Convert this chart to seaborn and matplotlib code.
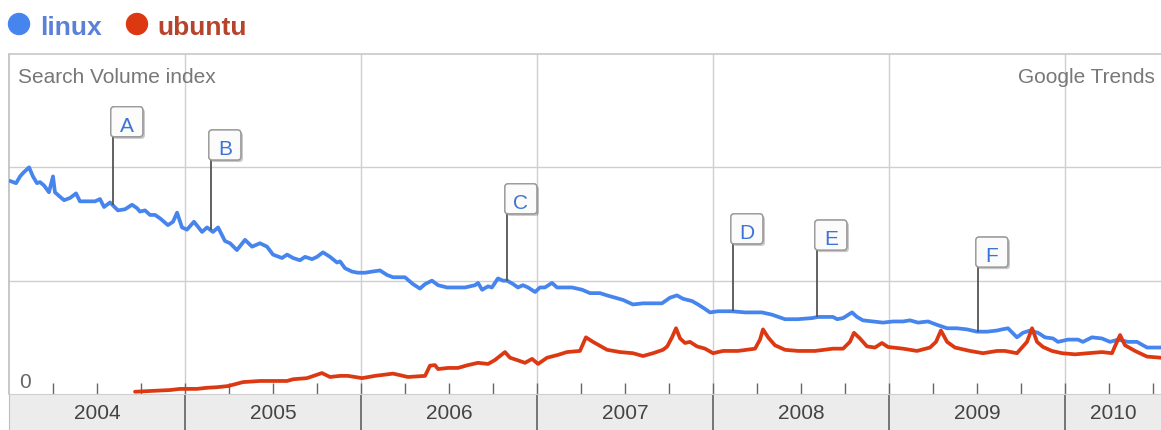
import numpy as np
import pandas as pd
import matplotlib
matplotlib.use("Agg")
import matplotlib.pyplot as plt
import matplotlib.patheffects as pe
import matplotlib.transforms as mtransforms
from matplotlib.patches import Ellipse, FancyBboxPatch
import seaborn as sns

sns.set_style("white")
plt.rcParams['font.family'] = ['Liberation Sans', 'DejaVu Sans']

# ---------------- data (Search Volume index, decimal years) ----------------
linux_years = [
    2004.006, 2004.040, 2004.063, 2004.080, 2004.114, 2004.136, 2004.159, 2004.176, 2004.199, 2004.227,
    2004.250, 2004.261, 2004.290, 2004.313, 2004.347, 2004.381, 2004.403, 2004.443, 2004.489, 2004.517,
    2004.540, 2004.574, 2004.619, 2004.659, 2004.699, 2004.727, 2004.744, 2004.773, 2004.801, 2004.830,
    2004.858, 2004.903, 2004.932, 2004.955, 2004.983,
    2005.011, 2005.051, 2005.097, 2005.125, 2005.159, 2005.188, 2005.227, 2005.256, 2005.295, 2005.341,
    2005.381, 2005.426, 2005.466, 2005.500, 2005.551, 2005.580, 2005.614, 2005.653, 2005.682, 2005.722,
    2005.750, 2005.784, 2005.824, 2005.864, 2005.881, 2005.909, 2005.949, 2005.983,
    2006.023, 2006.063, 2006.108, 2006.148, 2006.182, 2006.250, 2006.295, 2006.335, 2006.364, 2006.403,
    2006.438, 2006.489, 2006.534, 2006.591, 2006.648, 2006.665, 2006.688, 2006.722, 2006.744, 2006.778,
    2006.807, 2006.830, 2006.864, 2006.892, 2006.920, 2006.949, 2006.989,
    2007.017, 2007.045, 2007.085, 2007.114, 2007.148, 2007.199, 2007.256, 2007.301, 2007.358, 2007.398,
    2007.443, 2007.489, 2007.545, 2007.602, 2007.659, 2007.710, 2007.756, 2007.795, 2007.830, 2007.881,
    2007.915, 2007.955, 2007.983,
    2008.028, 2008.108, 2008.182, 2008.278, 2008.335, 2008.409, 2008.483, 2008.563, 2008.597, 2008.682,
    2008.705, 2008.739, 2008.790, 2008.818, 2008.852, 2008.909, 2008.966,
    2009.023, 2009.080, 2009.119, 2009.165, 2009.222, 2009.273, 2009.330, 2009.386, 2009.443, 2009.500,
    2009.557, 2009.614, 2009.642, 2009.676, 2009.727, 2009.761, 2009.801, 2009.847, 2009.886, 2009.932,
    2009.960,
    2010.017, 2010.074, 2010.102, 2010.153, 2010.210, 2010.256, 2010.301, 2010.358, 2010.409, 2010.466,
    2010.545,
]
linux_values = [
    1.88, 1.86, 1.92, 1.95, 2.00, 1.92, 1.86, 1.87, 1.84, 1.78,
    1.92, 1.78, 1.74, 1.71, 1.73, 1.77, 1.70, 1.70, 1.70, 1.72,
    1.65, 1.69, 1.62, 1.63, 1.67, 1.64, 1.61, 1.62, 1.58, 1.58,
    1.55, 1.49, 1.52, 1.60, 1.47,
    1.45, 1.52, 1.43, 1.47, 1.43, 1.47, 1.35, 1.33, 1.27, 1.36,
    1.30, 1.33, 1.30, 1.23, 1.20, 1.23, 1.20, 1.18, 1.21, 1.19,
    1.21, 1.25, 1.21, 1.16, 1.17, 1.11, 1.08, 1.07,
    1.07, 1.08, 1.09, 1.05, 1.03, 1.03, 0.97, 0.93, 0.97, 1.00,
    0.96, 0.94, 0.94, 0.94, 0.96, 0.98, 0.92, 0.95, 0.94, 1.02,
    1.00, 1.00, 0.97, 0.94, 0.96, 0.94, 0.90,
    0.94, 0.94, 0.98, 0.94, 0.94, 0.94, 0.92, 0.89, 0.89, 0.87,
    0.85, 0.83, 0.79, 0.80, 0.80, 0.80, 0.85, 0.87, 0.84, 0.82,
    0.79, 0.75, 0.72,
    0.73, 0.73, 0.72, 0.72, 0.70, 0.66, 0.66, 0.67, 0.68, 0.68,
    0.66, 0.67, 0.72, 0.68, 0.65, 0.64, 0.63,
    0.64, 0.64, 0.65, 0.63, 0.64, 0.61, 0.58, 0.58, 0.57, 0.55,
    0.55, 0.56, 0.57, 0.58, 0.50, 0.54, 0.56, 0.54, 0.50, 0.49,
    0.46,
    0.48, 0.48, 0.46, 0.50, 0.49, 0.46, 0.48, 0.46, 0.46, 0.41,
    0.41,
]

ubuntu_years = [
    2004.716, 2004.915, 2004.972,
    2005.068, 2005.125, 2005.182, 2005.244, 2005.330, 2005.426, 2005.500, 2005.580, 2005.614, 2005.693,
    2005.750, 2005.778, 2005.824, 2005.881, 2005.926,
    2006.006, 2006.080, 2006.182, 2006.267, 2006.364, 2006.392, 2006.420, 2006.438, 2006.494, 2006.551,
    2006.608, 2006.665, 2006.722, 2006.761, 2006.818, 2006.847, 2006.886, 2006.932, 2006.972,
    2007.006, 2007.057, 2007.119, 2007.170, 2007.244, 2007.278, 2007.318, 2007.398, 2007.472, 2007.545,
    2007.602, 2007.659, 2007.716, 2007.740, 2007.767, 2007.790, 2007.813, 2007.841, 2007.869, 2007.909,
    2007.955,
    2008.000, 2008.057, 2008.142, 2008.239, 2008.267, 2008.284, 2008.313, 2008.352, 2008.409, 2008.483,
    2008.580, 2008.682, 2008.739, 2008.778, 2008.801, 2008.835, 2008.875, 2008.920, 2008.960, 2008.994,
    2009.080, 2009.159, 2009.233, 2009.267, 2009.295, 2009.330, 2009.375, 2009.460, 2009.534, 2009.614,
    2009.659, 2009.727, 2009.784, 2009.813, 2009.841, 2009.875, 2009.926, 2009.983,
    2010.057, 2010.131, 2010.210, 2010.267, 2010.295, 2010.313, 2010.341, 2010.398, 2010.466, 2010.545,
]
ubuntu_values = [
    0.02, 0.035, 0.045,
    0.045, 0.055, 0.06, 0.07, 0.105, 0.115, 0.115, 0.115, 0.13, 0.14,
    0.17, 0.185, 0.15, 0.16, 0.16,
    0.14, 0.16, 0.18, 0.15, 0.16, 0.25, 0.255, 0.22, 0.23, 0.23,
    0.255, 0.275, 0.265, 0.30, 0.37, 0.32, 0.30, 0.275, 0.31,
    0.265, 0.32, 0.345, 0.37, 0.38, 0.50, 0.46, 0.39, 0.37, 0.36,
    0.335, 0.36, 0.39, 0.42, 0.50, 0.58, 0.49, 0.45, 0.46, 0.42,
    0.40,
    0.36, 0.38, 0.38, 0.40, 0.48, 0.57, 0.50, 0.43, 0.39, 0.38,
    0.38, 0.40, 0.40, 0.46, 0.54, 0.49, 0.42, 0.41, 0.45, 0.415,
    0.40, 0.38, 0.41, 0.46, 0.56, 0.46, 0.41, 0.38, 0.36, 0.38,
    0.38, 0.36, 0.46, 0.58, 0.46, 0.415, 0.38, 0.36,
    0.35, 0.36, 0.37, 0.36, 0.46, 0.52, 0.43, 0.38, 0.33, 0.32,
]

terms = ["linux", "ubuntu"]
year_labels = [2004, 2005, 2006, 2007, 2008, 2009, 2010]
event_labels = ["A", "B", "C", "D", "E", "F"]
event_dates = [2004.591, 2005.148, 2006.830, 2008.114, 2008.591, 2009.506]

# ---------------- styling / layout ----------------
line_colors = {"linux": "#4684ee", "ubuntu": "#dc3912"}
text_colors = {"linux": "#5a80d8", "ubuntu": "#b8432c"}
box_levels = [2.27, 2.065, 1.59, 1.325, 1.27, 1.12]   # annotation box bottoms
x_min, x_max = 2004.0, 2004.0 + 1152 / 176
W, H = 1161, 430

df = pd.concat([
    pd.DataFrame({"year": linux_years, "value": linux_values, "term": "linux"}),
    pd.DataFrame({"year": ubuntu_years, "value": ubuntu_values, "term": "ubuntu"}),
], ignore_index=True)

fig = plt.figure(figsize=(W / 100, H / 100), dpi=100)
fig.patch.set_facecolor("white")
ax = fig.add_axes([9 / W, 36 / H, (W - 9) / W, 340 / H])
band = fig.add_axes([9 / W, 0, (W - 9) / W, 36 / H])

sns.lineplot(data=df, x="year", y="value", hue="term", hue_order=terms,
             palette=line_colors, linewidth=2.7, legend=False, ax=ax,
             estimator=None, sort=False, zorder=3)

ax.set_xlim(x_min, x_max)
ax.set_ylim(0, 3)
ax.set_xlabel("")
ax.set_ylabel("")
major = [y for y in range(2005, 2011)]
minor = [y + q for y in range(2004, 2011) for q in (0.25, 0.5, 0.75) if y + q < x_max]
ax.set_xticks(major)
ax.set_xticks(minor, minor=True)
ax.set_yticks([1, 2])
ax.grid(axis="x", which="major", color="#cfcfcf", lw=1)
ax.grid(axis="y", which="major", color="#cfcfcf", lw=1)
ax.tick_params(axis="x", which="both", direction="in", length=8, width=1,
               color="#666666", labelbottom=False, bottom=True)
ax.tick_params(axis="y", length=0, labelleft=False)
for s in ("right", "bottom"):
    ax.spines[s].set_visible(False)
ax.spines["top"].set_color("#c8c8c8")
ax.spines["left"].set_color("#bdbdbd")
ax.spines["top"].set_linewidth(1.2)
ax.spines["left"].set_linewidth(1.2)

# event annotations: connector from the linux curve up to a small labelled box
for lab, ex, lvl in zip(event_labels, event_dates, box_levels):
    ey = float(np.interp(ex, linux_years, linux_values))
    ax.vlines(ex, ey, lvl, color="#555555", lw=1.3, zorder=4)
    trans = fig.dpi_scale_trans + mtransforms.ScaledTranslation(ex, lvl, ax.transData)
    box = FancyBboxPatch((-0.022, 0.0), 0.32, 0.30,
                         boxstyle="round,pad=0,rounding_size=0.035",
                         fc="#fbfbfb", ec="#9a9a9a", lw=1, transform=trans, zorder=5,
                         clip_on=False)
    box.set_path_effects([pe.withSimplePatchShadow(offset=(1.5, -1.5),
                                                   shadow_rgbFace="black", alpha=0.22),
                          pe.Normal()])
    ax.add_patch(box)
    ax.text(0.138, 0.05, lab, transform=trans, ha="center", va="baseline",
            fontsize=15, color="#3d73d6", zorder=6)

# bottom band with years
band.set_xlim(x_min, x_max)
band.set_ylim(0, 1)
band.set_facecolor("#ececec")
band.set_xticks([])
band.set_yticks([])
for s in ("right", "bottom"):
    band.spines[s].set_visible(False)
band.spines["top"].set_color("#cfcfcf")
band.spines["left"].set_color("#bdbdbd")
band.vlines(major, 0, 1, color="#555555", lw=1.1)
for y in year_labels:
    c = (max(y, x_min) + min(y + 1, x_max)) / 2
    band.text(c, 0.45, str(y), ha="center", va="center", fontsize=15, color="#444444")

# texts
fig.text(18 / W, 1 - 83 / H, "Search Volume index", fontsize=15, color="#777777",
         ha="left", va="baseline")
fig.text(1155 / W, 1 - 83 / H, "Google Trends", fontsize=15, color="#777777",
         ha="right", va="baseline")
fig.text(25 / W, 1 - 388 / H, "0", fontsize=15, color="#666666", ha="center", va="baseline")

# legend
d = 21
for term, cx, tx in zip(terms, (19, 137), (40, 157)):
    fig.add_artist(Ellipse((cx / W, 1 - 24 / H), d / W, d / H, transform=fig.transFigure,
                           color=line_colors[term]))
    fig.text(tx / W, 1 - 35 / H, term, fontsize=19, weight="bold",
             color=text_colors[term], ha="left", va="baseline")

fig.savefig("out.png", dpi=100)
